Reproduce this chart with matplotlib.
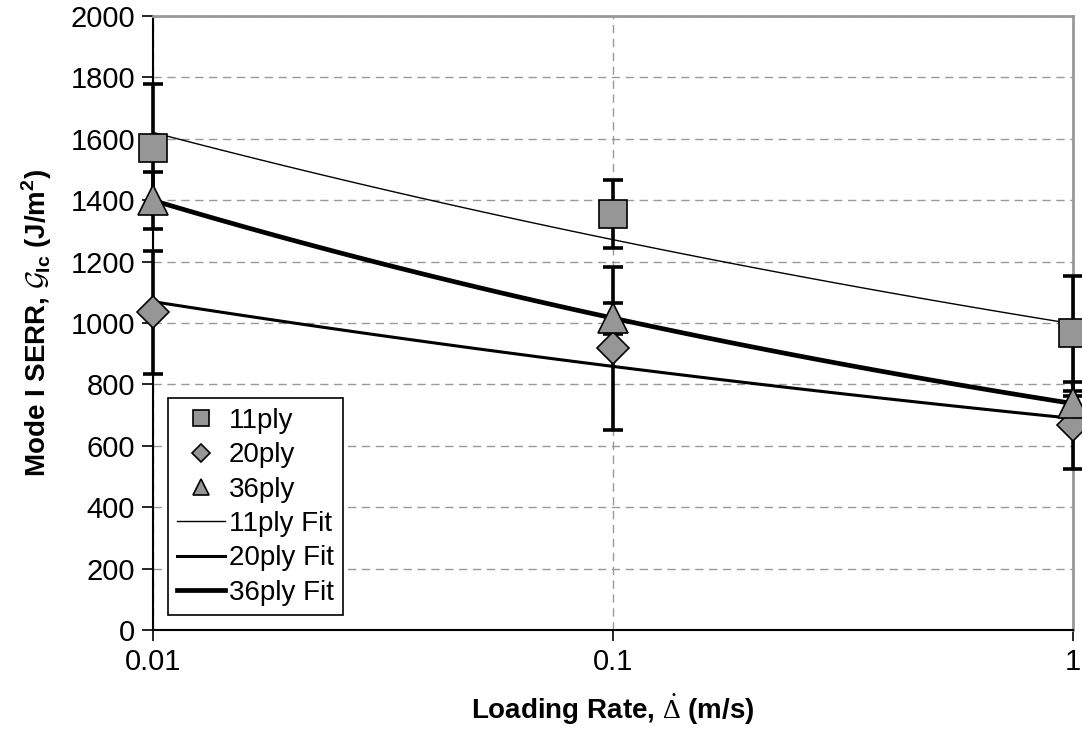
import numpy as np
import matplotlib
matplotlib.use('Agg')
import matplotlib.pyplot as plt

'''Mode I SERR vs loading rate, with power-law fits'''

plt.rcParams['font.family'] = ['Liberation Sans', 'DejaVu Sans']
plt.rcParams['mathtext.fontset'] = 'custom'
plt.rcParams['mathtext.rm'] = 'Liberation Serif'
plt.rcParams['mathtext.bf'] = 'Liberation Sans:bold'
plt.rcParams['mathtext.cal'] = 'cmsy10'

# data
rates = [0.01, 0.1, 1.0]
series = ['11ply', '20ply', '36ply']
g_11 = [1570, 1355, 966]
g_20 = [1035, 917, 667]
g_36 = [1400, 1015, 738]
err_11 = [210, 112, 188]
err_20 = [200, 267, 142]
err_36 = [93, 50, 25]

markers = ['s', 'D', '^']
msizes = [20, 16, 21]
fit_widths = [1.0, 2.2, 3.4]
grey = '#969696'

fig = plt.figure(figsize=(10.82, 7.47), dpi=100)
ax = fig.add_axes([0.1414, 0.1566, 0.8503, 0.8220])

values = [g_11, g_20, g_36]
errors = [err_11, err_20, err_36]

# error bars under the markers
for vals, errs in zip(values, errors):
    eb = ax.errorbar(rates, vals, yerr=errs, fmt='none', ecolor='black',
                     elinewidth=2.6, capsize=7, capthick=2.6, zorder=3)
    for art in eb.lines[1] + eb.lines[2]:
        art.set_clip_on(False)

# power-law trendlines (least squares in log space, like Excel)
xfit = np.logspace(-2, 0, 100)
fit_handles = []
for name, vals, lw in zip(series, values, fit_widths):
    b, loga = np.polyfit(np.log10(rates), np.log10(vals), 1)
    yfit = 10 ** loga * xfit ** b
    h, = ax.plot(xfit, yfit, color='black', lw=lw, zorder=4, label=name + ' Fit')
    fit_handles.append(h)

pt_handles = []
for name, vals, m, ms in zip(series, values, markers, msizes):
    h, = ax.plot(rates, vals, linestyle='none', marker=m, ms=ms,
                 markerfacecolor=grey, markeredgecolor='black', markeredgewidth=1.2,
                 zorder=5, label=name, clip_on=False)
    pt_handles.append(h)

ax.set_xscale('log')
ax.set_xlim(0.01, 1)
ax.set_ylim(0, 2000)
ax.set_yticks(np.arange(0, 2001, 200))
ax.set_xticks(rates)
ax.set_xticklabels(['0.01', '0.1', '1'])
ax.xaxis.set_minor_locator(matplotlib.ticker.NullLocator())
ax.tick_params(axis='both', which='major', labelsize=21, direction='out',
               length=8, width=1.2, pad=5)
ax.grid(True, which='major', color='#999999', linestyle=(0, (6, 4)), linewidth=1.0)
ax.set_axisbelow(True)

for s in ['top', 'right']:
    ax.spines[s].set_color('#999999')
    ax.spines[s].set_linewidth(2)
for s in ['left', 'bottom']:
    ax.spines[s].set_linewidth(1.5)

ax.set_ylabel(r'Mode I SERR, $\mathcal{G}_{\mathbf{Ic}}$ (J/m$^{\mathbf{2}}$)',
              fontsize=20, fontweight='bold', labelpad=12)
ax.set_xlabel(r'Loading Rate, $\dot{\Delta}$ (m/s)', fontsize=20, fontweight='bold',
              labelpad=12)

leg = ax.legend(handles=pt_handles + fit_handles, loc='lower left',
                bbox_to_anchor=(0.016, 0.024), borderaxespad=0, fontsize=20,
                frameon=True, fancybox=False, framealpha=1, edgecolor='black',
                handlelength=1.7, handletextpad=0.15, labelspacing=0.3,
                markerscale=0.55, borderpad=0.35)
leg.get_frame().set_linewidth(1.2)

fig.savefig('out.png', dpi=100)
